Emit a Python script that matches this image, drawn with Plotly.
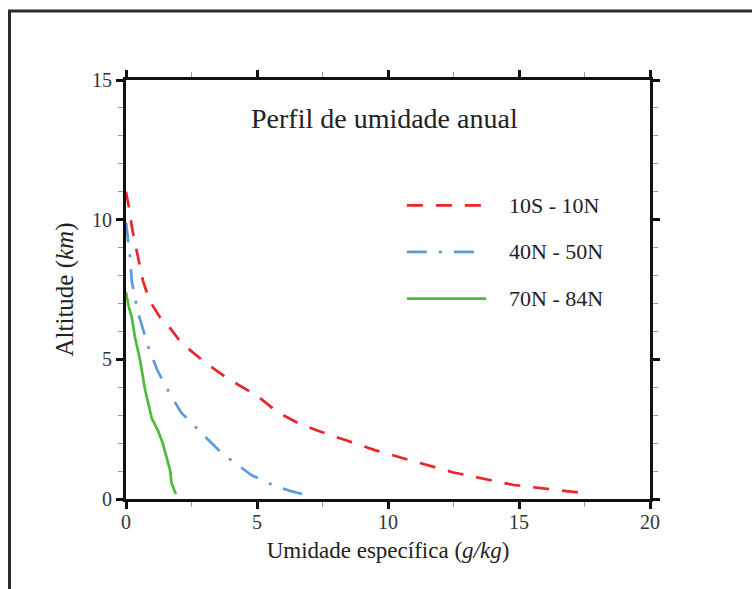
import plotly.graph_objects as go

# Annual specific humidity profiles by latitude band
q_trop = [0.0, 0.1, 0.25, 0.45, 0.65, 0.9, 1.3, 1.7, 2.1, 3.0, 3.9, 5.0, 5.8, 6.6, 7.3, 8.4, 9.5, 10.8, 12.5, 14.8, 17.6]
z_trop = [11.0, 10.5, 9.6, 8.7, 7.8, 7.1, 6.5, 6.1, 5.6, 4.9, 4.3, 3.7, 3.1, 2.7, 2.45, 2.1, 1.75, 1.4, 0.95, 0.5, 0.2]

q_mid = [0.0, 0.08, 0.15, 0.22, 0.45, 0.85, 1.2, 1.6, 2.1, 2.95, 3.7, 4.8, 5.6, 6.3, 6.85]
z_mid = [9.9, 9.3, 8.7, 7.8, 6.7, 5.45, 4.6, 3.9, 3.1, 2.3, 1.6, 0.85, 0.5, 0.28, 0.15]

q_pol = [0.0, 0.1, 0.22, 0.34, 0.53, 0.73, 0.98, 1.22, 1.4, 1.55, 1.68, 1.74, 1.9]
z_pol = [7.4, 6.9, 6.5, 5.8, 5.0, 3.9, 2.9, 2.45, 2.0, 1.5, 1.04, 0.57, 0.18]

series_names = ["10S - 10N", "40N - 50N", "70N - 84N"]
series_colors = ["#e8262b", "#5b9bd8", "#4dbb3a"]
series_dash = ["16px,13px", "20px,12px,3px,12px", "solid"]

x_ticks = [0, 5, 10, 15, 20]
y_ticks = [0, 5, 10, 15]

FONT = "Liberation Serif, Times New Roman, serif"

fig = go.Figure()
for q, z, name, col, dash in zip([q_trop, q_mid, q_pol], [z_trop, z_mid, z_pol],
                                 series_names, series_colors, series_dash):
    fig.add_trace(go.Scatter(x=q, y=z, mode="lines", name=name,
                             line=dict(color=col, width=2.7, dash=dash),
                             showlegend=False))

# Hand-drawn legend inside the plot area
leg_y = [0.701, 0.590, 0.478]
for name, col, dash, yy in zip(series_names, series_colors, series_dash, leg_y):
    fig.add_shape(type="line", xref="paper", yref="paper",
                  x0=0.536, x1=0.687, y0=yy, y1=yy,
                  line=dict(color=col, width=2.7, dash=dash))
    fig.add_annotation(text=name, xref="paper", yref="paper", x=0.727, y=yy,
                       xanchor="left", yanchor="middle", showarrow=False,
                       font=dict(family=FONT, size=22, color="#222"))

fig.add_annotation(text="Perfil de umidade anual", xref="paper", yref="paper",
                   x=0.494, y=0.909, xanchor="center", yanchor="middle",
                   showarrow=False, font=dict(family=FONT, size=28, color="#222"))

# Outer frame around the figure
fig.add_shape(type="rect", xref="paper", yref="paper",
              x0=-0.2223, x1=1.3, y0=-0.35, y1=1.1647,
              line=dict(color="#2a2a2a", width=3), layer="below")

axis_common = dict(showline=True, linewidth=3, linecolor="#111", mirror="allticks",
                   ticks="outside", ticklen=7, tickwidth=3, tickcolor="#111",
                   showgrid=False, zeroline=False,
                   tickfont=dict(family=FONT, size=20, color="#333"))

fig.update_xaxes(range=[0, 20], tickvals=x_ticks, ticktext=[str(v) for v in x_ticks],
                 ticklabelstandoff=-4,
                 minor=dict(dtick=2.5, ticks="outside", ticklen=5, tickwidth=1,
                            tickcolor="#999", showgrid=False),
                 title=dict(text="Umidade específica (<i>g/kg</i>)", standoff=10,
                            font=dict(family=FONT, size=23, color="#222")),
                 **axis_common)
fig.update_yaxes(range=[0, 15], tickvals=y_ticks, ticktext=[str(v) for v in y_ticks],
                 minor=dict(dtick=1, ticks="outside", ticklen=5, tickwidth=1,
                            tickcolor="#999", showgrid=False),
                 title=dict(text="Altitude (<i>km</i>)", standoff=12,
                            font=dict(family=FONT, size=25, color="#222")),
                 **axis_common)

fig.update_layout(width=752, height=589,
                  margin=dict(l=126, r=102, t=80, b=90),
                  paper_bgcolor="white", plot_bgcolor="white")

fig.write_html("out.html")
